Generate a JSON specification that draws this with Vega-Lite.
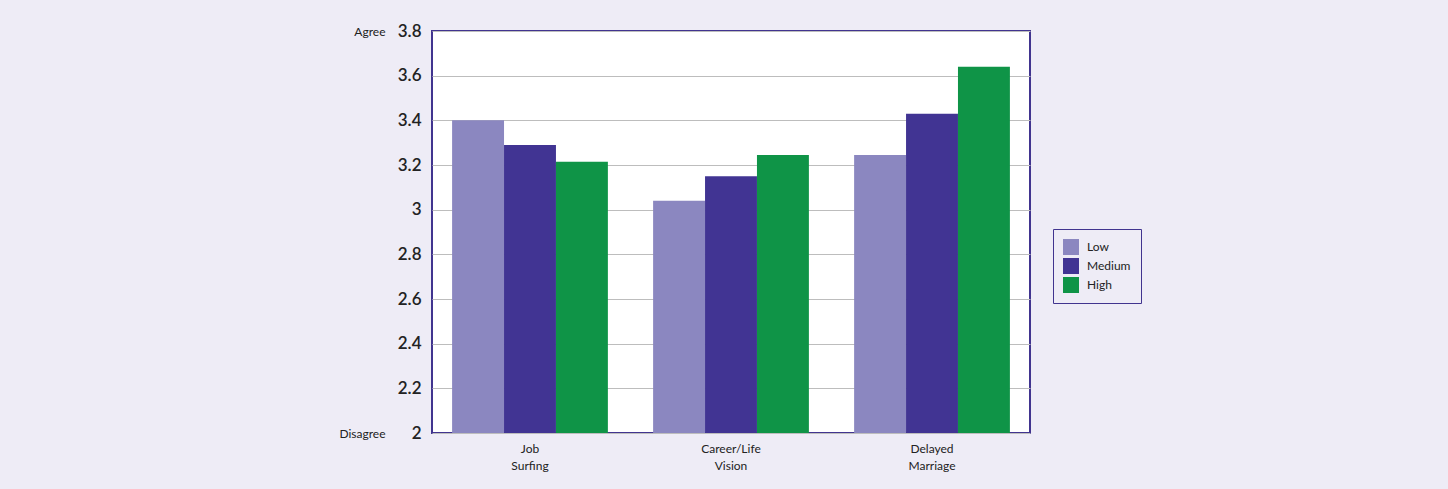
{
  "$schema": "https://vega.github.io/schema/vega-lite/v6.json",
  "autosize": "none",
  "width": 598,
  "height": 402,
  "padding": {"left": 432, "top": 31, "right": 418, "bottom": 56},
  "background": "#eeecf6",
  "data": {
    "values": [
      {"topic": "Job Surfing", "level": "Low", "score": 3.40},
      {"topic": "Job Surfing", "level": "Medium", "score": 3.29},
      {"topic": "Job Surfing", "level": "High", "score": 3.215},
      {"topic": "Career/Life Vision", "level": "Low", "score": 3.04},
      {"topic": "Career/Life Vision", "level": "Medium", "score": 3.15},
      {"topic": "Career/Life Vision", "level": "High", "score": 3.245},
      {"topic": "Delayed Marriage", "level": "Low", "score": 3.245},
      {"topic": "Delayed Marriage", "level": "Medium", "score": 3.43},
      {"topic": "Delayed Marriage", "level": "High", "score": 3.64}
    ]
  },
  "encoding": {
    "x": {
      "field": "topic", "type": "nominal",
      "sort": ["Job Surfing", "Career/Life Vision", "Delayed Marriage"],
      "scale": {"paddingInner": 0.225, "paddingOuter": 0.1},
      "axis": {
        "title": null, "labelAngle": 0, "domain": false, "ticks": false,
        "labelPadding": 10, "labelFont": "Lato", "labelFontSize": 12,
        "labelColor": "#222222", "labelLineHeight": 17,
        "labelExpr": "split(datum.label, ' ')"
      }
    },
    "xOffset": {
      "field": "level", "type": "nominal",
      "sort": ["Low", "Medium", "High"],
      "scale": {"paddingInner": 0, "paddingOuter": 0}
    }
  },
  "layer": [
    {
      "mark": {"type": "bar", "clip": true},
      "encoding": {
        "y": {
          "field": "score", "type": "quantitative",
          "scale": {"domain": [2, 3.8], "zero": false, "nice": false},
          "axis": {
            "title": null, "values": [2, 2.2, 2.4, 2.6, 2.8, 3, 3.2, 3.4, 3.6, 3.8],
            "format": "~g",
            "domain": false, "ticks": false, "labelPadding": 11,
            "labelFont": "Lato", "labelFontSize": 17, "labelFontWeight": 600,
            "labelColor": "#222222", "grid": true, "gridColor": "#bdbdbd",
            "gridWidth": 1
          }
        },
        "color": {
          "field": "level", "type": "nominal",
          "sort": ["Low", "Medium", "High"],
          "scale": {"domain": ["Low", "Medium", "High"], "range": ["#8b87c0", "#413493", "#0f9447"]},
          "legend": {
            "title": null, "orient": "none", "legendX": 621, "legendY": 198,
            "symbolType": "square", "symbolSize": 256, "symbolStrokeWidth": 0,
            "symbolOpacity": 1,
            "labelFont": "Lato", "labelFontSize": 12, "labelColor": "#222222",
            "rowPadding": 3, "padding": 10, "strokeColor": "#41348f",
            "fillColor": "#eeecf6", "labelOffset": 8, "labelLimit": 200
          }
        }
      }
    },
    {
      "mark": {"type": "bar", "opacity": 0, "clip": true},
      "encoding": {
        "y": {
          "field": "score", "type": "quantitative",
          "scale": {"domain": [2, 3.8], "zero": false, "nice": false},
          "axis": {
            "title": null, "orient": "left", "values": [2, 3.8],
            "labelExpr": "datum.value >= 3.7 ? 'Agree' : 'Disagree'",
            "domain": false, "ticks": false, "grid": false, "labelPadding": 47,
            "labelFont": "Lato", "labelFontSize": 12, "labelColor": "#222222"
          }
        }
      }
    }
  ],
  "resolve": {"scale": {"y": "independent"}},
  "config": {
    "view": {"stroke": "#41348f", "strokeWidth": 2, "fill": "#ffffff"}
  }
}
